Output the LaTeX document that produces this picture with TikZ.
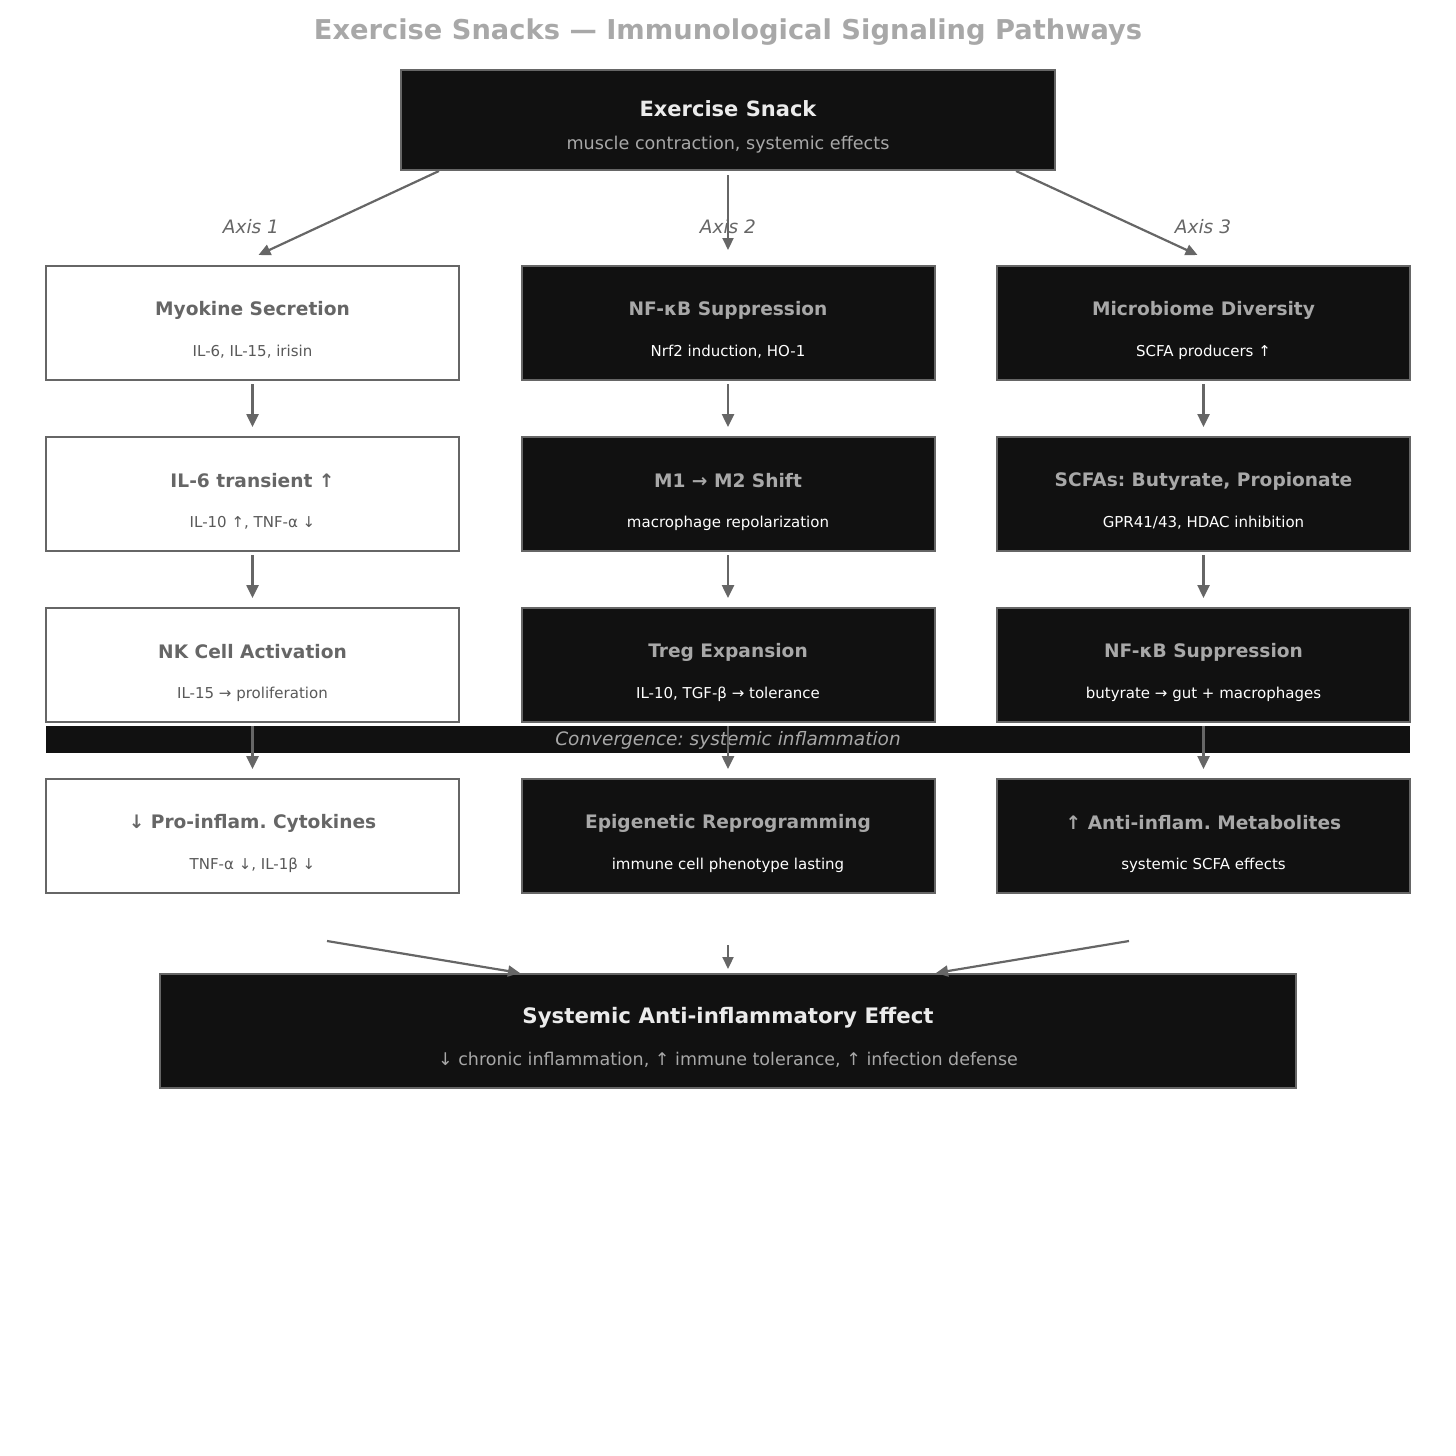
\documentclass[tikz,border=0pt]{standalone}
\usepackage{fontspec}
\setmainfont{DejaVu Sans}
\usetikzlibrary{arrows.meta}
\usetikzlibrary{positioning}
\frenchspacing

\definecolor{boxdark}{HTML}{111111}
\definecolor{edgegray}{HTML}{666666}
\definecolor{titlegray}{HTML}{A8A8A8}

\tikzset{
  lightbox/.style={rectangle,draw=edgegray,line width=2pt,fill=white,
    minimum width=413pt,minimum height=114pt,inner sep=0pt},
  darkbox/.style={rectangle,draw=edgegray,line width=2pt,fill=boxdark,
    minimum width=413pt,minimum height=114pt,inner sep=0pt},
  flow/.style={draw=edgegray,line width=2.5pt,-{Triangle[length=13pt,width=12pt]}},
  thinflow/.style={draw=edgegray,line width=2.2pt,-{Triangle[length=12pt,width=11pt]}},
}

\newcommand{\hd}{\fontsize{18.6}{22}\selectfont\bfseries}
\newcommand{\sub}{\fontsize{15}{18}\selectfont}

\begin{document}
\frenchspacing
\begin{tikzpicture}[x=1pt,y=-1pt]
  \useasboundingbox (0,0) rectangle (1456,1456);

  \node[text=titlegray,font=\fontsize{27.3}{32}\selectfont\bfseries] (title) at (728,32)
    {Exercise Snacks — Immunological Signaling Pathways};

  % source
  \node[darkbox,minimum width=654pt,minimum height=100pt] (snack) at (728,120) {};
  \node[text=white!92!black,font=\fontsize{21}{25}\selectfont\bfseries] at (728,109) {Exercise Snack};
  \node[text=titlegray,font=\fontsize{17.6}{21}\selectfont] at (728,145) {muscle contraction, systemic effects};

  % axis 1
  \begin{scope}[every node/.style={lightbox}]
    \node (myokine) at (252.5,323) {};
    \node (il6)     at (252.5,494) {};
    \node (nkcell)  at (252.5,665) {};
    \node (procyto) at (252.5,836) {};
  \end{scope}
  \begin{scope}[every node/.style={text=edgegray,font=\hd}]
    \node at (252.5,310) {Myokine Secretion};
    \node at (252.5,481) {IL-6 transient ↑};
    \node at (252.5,652) {NK Cell Activation};
    \node at (252.5,823) {↓ Pro-inflam. Cytokines};
  \end{scope}
  \begin{scope}[every node/.style={text=black!65,font=\sub}]
    \node at (252.5,352) {IL-6, IL-15, irisin};
    \node at (252.5,523) {IL-10 ↑, TNF-α ↓};
    \node at (252.5,694) {IL-15 → proliferation};
    \node at (252.5,865) {TNF-α ↓, IL-1β ↓};
  \end{scope}

  % axis 2 and axis 3
  \begin{scope}[every node/.style={darkbox}]
    \node (nfkb)       at (728,323) {};
    \node (mshift)     at (728,494) {};
    \node (treg)       at (728,665) {};
    \node (epigen)     at (728,836) {};
    \node (microbiome) at (1203.5,323) {};
    \node (scfa)       at (1203.5,494) {};
    \node (nfkbgut)    at (1203.5,665) {};
    \node (antimeta)   at (1203.5,836) {};
  \end{scope}
  \begin{scope}[every node/.style={text=titlegray,font=\hd}]
    \node at (728,310) {NF-κB Suppression};
    \node at (728,481) {M1 → M2 Shift};
    \node at (728,652) {Treg Expansion};
    \node at (728,823) {Epigenetic Reprogramming};
    \node at (1203.5,310) {Microbiome Diversity};
    \node at (1203.5,481) {SCFAs: Butyrate, Propionate};
    \node at (1203.5,652) {NF-κB Suppression};
    \node at (1203.5,823) {↑ Anti-inflam. Metabolites};
  \end{scope}
  \begin{scope}[every node/.style={text=white,font=\sub}]
    \node at (728,352) {Nrf2 induction, HO-1};
    \node at (728,523) {macrophage repolarization};
    \node at (728,694) {IL-10, TGF-β → tolerance};
    \node at (728,865) {immune cell phenotype lasting};
    \node at (1203.5,352) {SCFA producers ↑};
    \node at (1203.5,523) {GPR41/43, HDAC inhibition};
    \node at (1203.5,694) {butyrate → gut + macrophages};
    \node at (1203.5,865) {systemic SCFA effects};
  \end{scope}

  % convergence band
  \node[rectangle,fill=boxdark,minimum width=1364pt,minimum height=27pt,inner sep=0pt] (conv) at (728,739.5) {};
  \node[text=titlegray,font=\fontsize{18.5}{22}\selectfont\itshape] at (728,740) {Convergence: systemic inflammation};

  % result
  \node[darkbox,minimum width=1136pt,minimum height=114pt] (systemic) at (728,1031) {};
  \node[text=white!92!black,font=\fontsize{21.3}{25}\selectfont\bfseries] at (728,1018) {Systemic Anti-inflammatory Effect};
  \node[text=titlegray,font=\fontsize{17.5}{21}\selectfont] at (728,1060) {↓ chronic inflammation, ↑ immune tolerance, ↑ infection defense};

  % axis labels
  \begin{scope}[every node/.style={text=edgegray,font=\fontsize{18.5}{22}\selectfont\itshape}]
    \node at (251,227) {Axis 1};
    \node at (728,227) {Axis 2};
    \node at (1203,227) {Axis 3};
  \end{scope}

  % connectors
  \begin{scope}[every edge/.style={thinflow}]
    \path ([xshift=39pt]snack.south west) edge ([xshift=6pt,yshift=10pt]myokine.north);
    \path ([yshift=-4pt]snack.south) edge ([yshift=15pt]nfkb.north);
    \path ([xshift=-40pt]snack.south east) edge ([xshift=-6pt,yshift=10pt]microbiome.north);
  \end{scope}
  \begin{scope}[every edge/.style={flow,shorten <=3pt,shorten >=9pt}]
    \path (myokine) edge (il6);
    \path (il6) edge (nkcell);
    \path (nkcell) edge (procyto);
    \path (nfkb) edge (mshift);
    \path (mshift) edge (treg);
    \path (treg) edge (epigen);
    \path (microbiome) edge (scfa);
    \path (scfa) edge (nfkbgut);
    \path (nfkbgut) edge (antimeta);
  \end{scope}

  \coordinate (left in)  at (327,941);
  \coordinate (mid in)   at (728,945);
  \coordinate (right in) at (1129,941);
  \begin{scope}[every edge/.style={thinflow}]
    \path (left in) edge ([xshift=-208pt]systemic.north);
    \path (mid in) edge ([yshift=4pt]systemic.north);
    \path (right in) edge ([xshift=208pt]systemic.north);
  \end{scope}
\end{tikzpicture}
\end{document}
